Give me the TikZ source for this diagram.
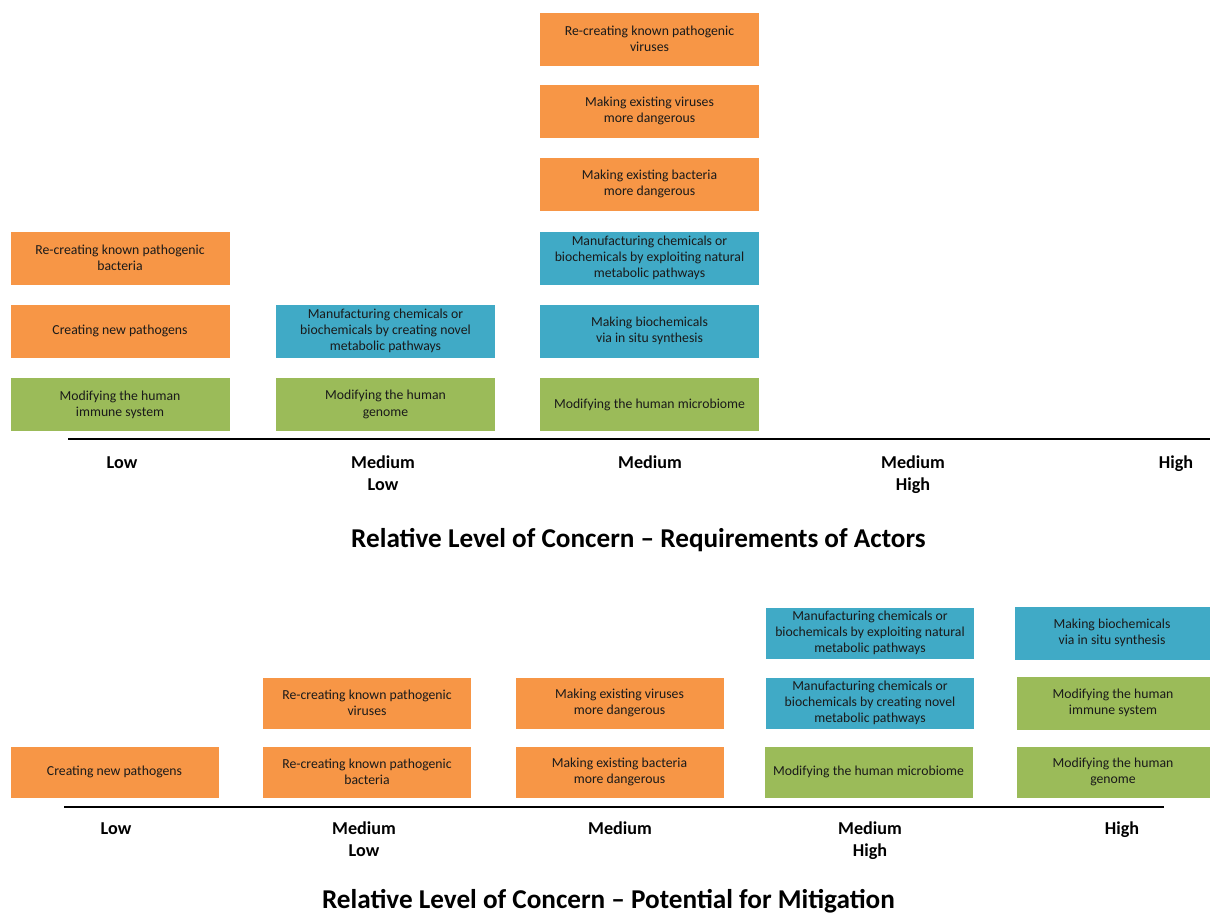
\documentclass[tikz,border=0pt]{standalone}
\usepackage{fontspec}
\setmainfont{Carlito}
\definecolor{orng}{HTML}{F79646}
\definecolor{blu}{HTML}{40AAC6}
\definecolor{grn}{HTML}{9BBB59}
\definecolor{txt}{HTML}{1A1A1A}
\begin{document}
\begin{tikzpicture}[x=0.75pt,y=-0.75pt,
  box/.style={rectangle, draw=white, line width=0.5pt, align=center, inner sep=0pt, text=txt,
    font=\fontsize{10.3}{12.2}\selectfont},
  ob/.style={box, fill=orng},
  bb/.style={box, fill=blu},
  gb/.style={box, fill=grn},
  tsz/.style={minimum width=165pt, minimum height=40.5pt},
  bsz/.style={minimum width=156.75pt, minimum height=39pt},
  lvl/.style={align=center, font=\fontsize{13.6}{16.5}\selectfont\bfseries, anchor=north, inner sep=0pt},
  ttl/.style={font=\fontsize{20.4}{24}\selectfont\bfseries, inner sep=0pt},
  axis/.style={line width=1.1pt, black}]
\useasboundingbox (0,0) rectangle (1210,913);
% ---------- top chart ----------
\node[ob,tsz] (t1a) at (120,258) {Re-creating known pathogenic\\bacteria};
\node[ob,tsz] (t1b) at (120,331) {Creating new pathogens};
\node[gb,tsz] (t1c) at (120,404.5) {Modifying the human\\immune system};
\node[bb,tsz] (t2a) at (385.5,331) {Manufacturing chemicals or\\biochemicals by creating novel\\metabolic pathways};
\node[gb,tsz] (t2b) at (385.5,404.5) {Modifying the human\\genome};
\node[ob,tsz] (t3a) at (649.5,39) {Re-creating known pathogenic\\viruses};
\node[ob,tsz] (t3b) at (649.5,111) {Making existing viruses\\more dangerous};
\node[ob,tsz] (t3c) at (649.5,184) {Making existing bacteria\\more dangerous};
\node[bb,tsz] (t3d) at (649.5,258) {Manufacturing chemicals or\\biochemicals by exploiting natural\\metabolic pathways};
\node[bb,tsz] (t3e) at (649.5,331) {Making biochemicals\\via in situ synthesis};
\node[gb,tsz] (t3f) at (649.5,404.5) {Modifying the human microbiome};
\coordinate (ta0) at (68,439);
\coordinate (ta1) at (1210,439);
\draw[axis] (ta0) -- (ta1);
\node[lvl] (tl1) at (122,453) {\strut Low};
\node[lvl] (tl2) at (383,453) {\strut Medium\\Low};
\node[lvl] (tl3) at (650,453) {\strut Medium};
\node[lvl] (tl4) at (913,453) {\strut Medium\\High};
\node[lvl] (tl5) at (1176,453) {\strut High};
\node[ttl] (tt) at (638.5,540) {Relative Level of Concern – Requirements of Actors};
% ---------- bottom chart ----------
\node[ob,bsz] (b1a) at (114.5,772) {Creating new pathogens};
\node[ob,bsz] (b2a) at (367,703) {Re-creating known pathogenic\\viruses};
\node[ob,bsz] (b2b) at (367,772) {Re-creating known pathogenic\\bacteria};
\node[ob,bsz] (b3a) at (619.5,703) {Making existing viruses\\more dangerous};
\node[ob,bsz] (b3b) at (619.5,772) {Making existing bacteria\\more dangerous};
\node[bb,bsz] (b4a) at (870,633) {Manufacturing chemicals or\\biochemicals by exploiting natural\\metabolic pathways};
\node[bb,bsz] (b4b) at (870,703) {Manufacturing chemicals or\\biochemicals by creating novel\\metabolic pathways};
\node[gb,bsz] (b4c) at (868.5,772) {Modifying the human microbiome};
\node[bb,minimum width=147pt,minimum height=40.5pt] (b5a) at (1112,633) {Making biochemicals\\via in situ synthesis};
\node[gb,minimum width=145.5pt,minimum height=40.5pt] (b5b) at (1113,703) {Modifying the human\\immune system};
\node[gb,minimum width=145.5pt,minimum height=39pt] (b5c) at (1113,772) {Modifying the human\\genome};
\coordinate (ba0) at (64,807);
\coordinate (ba1) at (1164,807);
\draw[axis] (ba0) -- (ba1);
\node[lvl] (bl1) at (116,819) {\strut Low};
\node[lvl] (bl2) at (364,819) {\strut Medium\\Low};
\node[lvl] (bl3) at (620,819) {\strut Medium};
\node[lvl] (bl4) at (870,819) {\strut Medium\\High};
\node[lvl] (bl5) at (1122,819) {\strut High};
\node[ttl] (bt) at (608.5,901) {Relative Level of Concern – Potential for Mitigation};
\end{tikzpicture}
\end{document}
